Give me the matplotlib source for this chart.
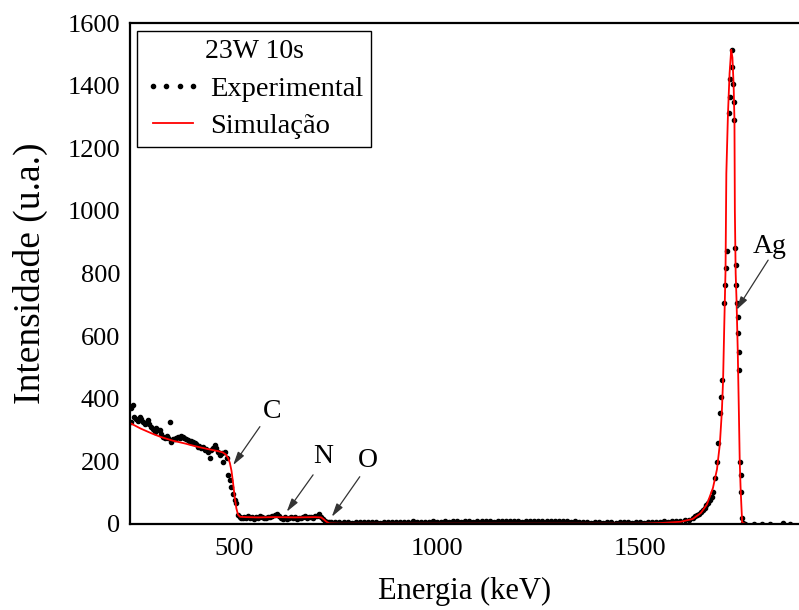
import matplotlib
matplotlib.use('Agg')
import matplotlib.pyplot as plt

# experimental spectrum (energy keV, counts)
low_e = [246, 247, 251, 255, 260, 264, 268, 272, 276, 280, 284, 288, 292, 296, 300,
         305, 309, 313, 317, 321, 325, 330, 334, 338, 342, 346, 350, 354, 358, 362,
         366, 370, 374, 378, 383, 387, 391, 395, 399, 403, 407, 411, 415, 419, 423,
         428, 432, 436, 440, 444, 448, 453, 457, 461, 466, 470, 474, 478, 482, 486,
         490, 494, 498, 502, 506, 510]
low_c = [327, 370, 380, 343, 335, 330, 343, 335, 327, 318, 322, 332, 318, 311, 303,
         295, 306, 300, 300, 288, 279, 276, 280, 275, 327, 263, 270, 272, 276, 279,
         276, 281, 278, 274, 272, 268, 262, 266, 262, 258, 254, 247, 250, 242, 245,
         236, 238, 231, 210, 236, 242, 252, 242, 231, 220, 226, 199, 231, 210, 157,
         141, 118, 96, 77, 66, 29]

mid_e = [514, 518, 522, 526, 530, 535, 540, 545, 550, 555, 560, 565, 570, 575, 580,
         585, 590, 595, 600, 605, 610, 615, 620, 625, 630, 635, 640, 645, 650, 655,
         660, 665, 670, 675, 680, 685, 690, 695, 700, 705, 710, 715, 720, 725, 730, 735]
mid_c = [23, 20, 18, 22, 20, 24, 19, 22, 17, 21, 19, 26, 22, 20, 18,
         23, 21, 25, 28, 32, 24, 20, 17, 22, 16, 19, 22, 18, 21, 17,
         20, 19, 22, 24, 18, 21, 23, 20, 25, 27, 32, 22, 15, 10, 7, 6]

flat_e = [740, 750, 760, 770, 780, 790, 800, 810, 820, 830, 840, 850, 860, 870, 880,
          890, 900, 910, 920, 930, 940, 950, 960, 970, 980, 990, 1000, 1010, 1020, 1030,
          1040, 1050, 1060, 1070, 1080, 1090, 1100, 1110, 1120, 1130, 1140, 1150, 1160,
          1170, 1180, 1190, 1200, 1210, 1220, 1230, 1240, 1250, 1260, 1270, 1280, 1290,
          1300, 1310, 1320, 1330, 1340, 1350, 1360, 1370, 1380, 1390, 1400, 1410, 1420,
          1430, 1440, 1450, 1460, 1470, 1480, 1490, 1500, 1510, 1520, 1530, 1540, 1550,
          1560, 1570, 1580, 1590]
flat_c = [6, 5, 7, 5, 6, 4, 6, 5, 7, 6, 5, 6, 4, 6, 7,
          5, 6, 5, 7, 6, 8, 5, 7, 6, 5, 8, 7, 6, 8, 7,
          9, 8, 6, 9, 8, 7, 9, 10, 8, 9, 7, 10, 8,
          9, 11, 8, 9, 7, 10, 9, 8, 10, 9, 11, 8, 10,
          9, 8, 10, 7, 8, 6, 5, 7, 4, 5, 6, 4, 5,
          6, 4, 5, 6, 5, 4, 6, 5, 4, 6, 5, 7, 6,
          8, 7, 9, 10]

peak_e = [1600, 1610, 1620, 1630, 1636, 1640, 1645, 1650, 1656, 1660, 1664, 1668, 1673,
          1677, 1681, 1685, 1690, 1693, 1697, 1699, 1702, 1707, 1710, 1713, 1715, 1719,
          1721, 1723, 1726, 1728, 1730, 1731, 1733, 1735, 1737, 1738, 1739, 1741, 1742,
          1744, 1745, 1746, 1748, 1749, 1751, 1755, 1760, 1780, 1800, 1820, 1852, 1870]
peak_c = [10, 12, 14, 18, 24, 29, 31, 38, 45, 52, 61, 66, 77,
          87, 103, 146, 199, 258, 354, 407, 460, 705, 764, 817, 873, 1312,
          1365, 1421, 1459, 1514, 1406, 1349, 1291, 881, 827, 764, 705, 662, 609,
          550, 492, 199, 157, 103, 18, 2, 0, 1, 0, 1, 4, 0]

exp_e = low_e + mid_e + flat_e + peak_e
exp_c = low_c + mid_c + flat_c + peak_c

# simulated spectrum
sim_e = [245, 270, 300, 320, 350, 380, 403, 430, 460, 472, 480, 486, 490, 494, 498,
         502, 506, 510, 515, 530, 560, 600, 650, 700, 715, 722, 728, 735, 760, 1000,
         1300, 1500, 1550, 1600, 1630, 1650, 1665, 1680, 1690, 1697, 1702, 1705, 1708,
         1711, 1713, 1717, 1721, 1725, 1728, 1731, 1733, 1734, 1736, 1738, 1741, 1744,
         1746, 1748, 1750, 1752, 1760, 1900]
sim_c = [322, 305, 288, 278, 266, 257, 249, 241, 233, 229, 222, 210, 195, 170, 130,
         85, 50, 30, 23, 22, 21, 22, 21, 22, 21, 14, 7, 2, 1, 1,
         1, 1, 3, 7, 16, 35, 62, 115, 175, 255, 360, 460, 640,
         810, 1120, 1310, 1440, 1515, 1490, 1400, 1290, 1000, 800, 720, 560, 350,
         200, 120, 60, 5, 0, 0]

peaks = ['C', 'N', 'O', 'Ag']
label_pos = [(593, 359), (720, 215), (831, 204), (1820, 886)]
arrow_tail = [(564, 311), (695, 157), (810, 151), (1816, 843)]
arrow_head = [(498, 188), (630, 39), (741, 23), (1738, 684)]

x_ticks = [500, 1000, 1500]
y_ticks = [0, 200, 400, 600, 800, 1000, 1200, 1400, 1600]

plt.rcParams['font.family'] = ['Liberation Serif', 'DejaVu Serif']

fig = plt.figure(figsize=(7.99, 6.10), dpi=100)
ax = fig.add_axes([0.1627, 0.141, 0.8373, 0.821])

ax.plot(exp_e, exp_c, linestyle='none', marker='o', markersize=3.0,
        color='black', label='Experimental')
ax.plot(sim_e, sim_c, color='red', lw=1.3, label='Simulação')

for name, lp, tail, head in zip(peaks, label_pos, arrow_tail, arrow_head):
    ax.text(lp[0], lp[1], name, ha='center', va='center', fontsize=20)
    ax.annotate('', xy=head, xytext=tail,
                arrowprops=dict(arrowstyle='-|>,head_length=0.8,head_width=0.22',
                                color='#333333', lw=0.9, shrinkA=0, shrinkB=0))

ax.set_xlim(244, 1892)
ax.set_ylim(0, 1600)
ax.set_xticks(x_ticks)
ax.set_yticks(y_ticks)
ax.tick_params(length=0, labelsize=19)
ax.tick_params(axis='x', pad=10)
ax.tick_params(axis='y', pad=7)

for s in ['left', 'top', 'bottom']:
    ax.spines[s].set_linewidth(1.6)
ax.spines['right'].set_visible(False)

ax.set_xlabel('Energia (keV)', fontsize=22, labelpad=12)
ax.set_ylabel('Intensidade (u.a.)', fontsize=27, labelpad=14)

leg = ax.legend(title='23W 10s', loc='upper left', bbox_to_anchor=(0.01, 0.985),
                borderaxespad=0, fontsize=20.5, title_fontsize=20, numpoints=4,
                handlelength=2.0, handletextpad=0.3, labelspacing=0.42,
                borderpad=0.28, fancybox=False, edgecolor='black', framealpha=1)
leg.get_frame().set_linewidth(1.0)

plt.savefig('out.png', dpi=100)
